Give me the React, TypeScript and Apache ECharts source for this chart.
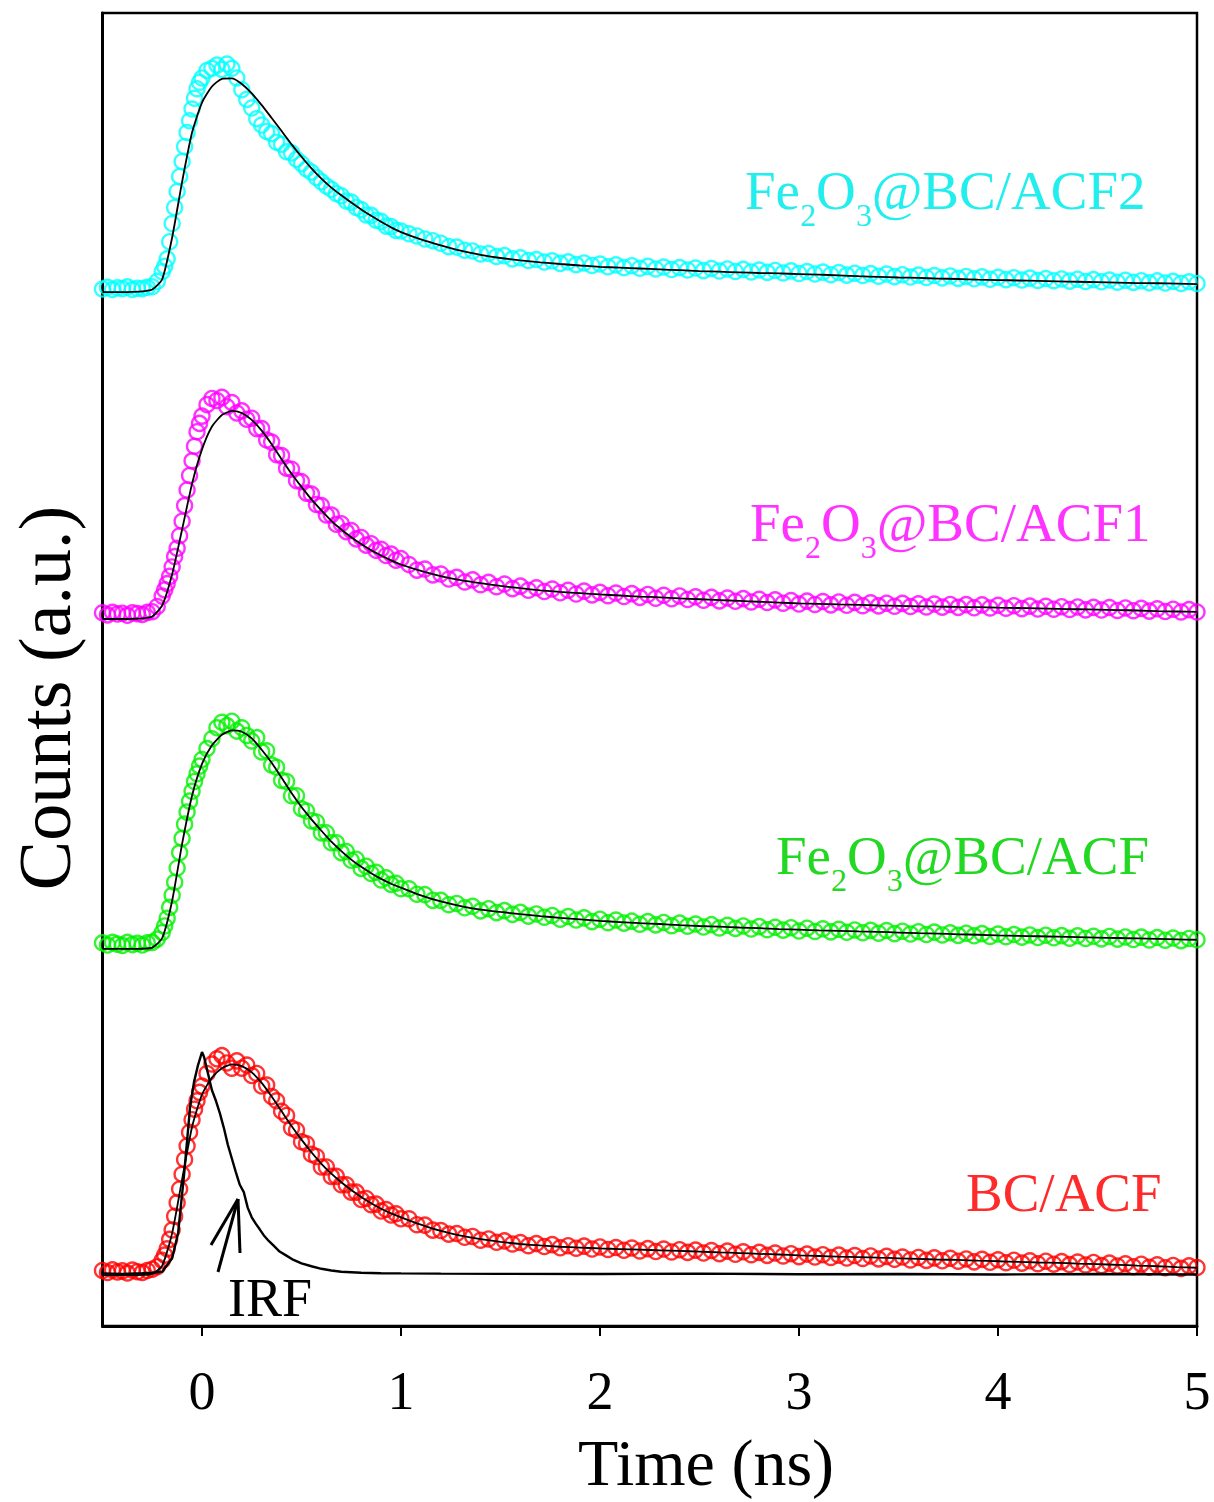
import React, { useEffect, useRef } from "react";
import * as echarts from "echarts";

// ---------- data ----------
const TIME_A = [-0.5, -0.475, -0.45, -0.425, -0.4, -0.375, -0.35, -0.325, -0.3, -0.275, -0.25, -0.225, -0.2, -0.175, -0.15, -0.125, -0.1, -0.075, -0.05, -0.025, 0, 0.025, 0.05, 0.075, 0.1, 0.125, 0.15, 0.175, 0.2, 0.225, 0.25, 0.275, 0.3, 0.325, 0.35, 0.375, 0.4, 0.425, 0.45, 0.475, 0.5, 0.525, 0.55, 0.575, 0.6, 0.625, 0.65, 0.675, 0.7, 0.725, 0.75, 0.775, 0.8, 0.825, 0.85, 0.875, 0.9, 0.925, 0.95, 0.975, 1.0];
const TIME_B = [1.04, 1.08, 1.12, 1.16, 1.2, 1.24, 1.28, 1.32, 1.36, 1.4,
  1.44, 1.48, 1.52, 1.56, 1.6, 1.64, 1.68, 1.72, 1.76, 1.8,
  1.84, 1.88, 1.92, 1.96, 2.0, 2.04, 2.08, 2.12, 2.16, 2.2,
  2.24, 2.28, 2.32, 2.36, 2.4, 2.44, 2.48, 2.52, 2.56, 2.6,
  2.64, 2.68, 2.72, 2.76, 2.8, 2.84, 2.88, 2.92, 2.96, 3.0,
  3.04, 3.08, 3.12, 3.16, 3.2, 3.24, 3.28, 3.32, 3.36, 3.4,
  3.44, 3.48, 3.52, 3.56, 3.6, 3.64, 3.68, 3.72, 3.76, 3.8,
  3.84, 3.88, 3.92, 3.96, 4.0, 4.04, 4.08, 4.12, 4.16, 4.2,
  4.24, 4.28, 4.32, 4.36, 4.4, 4.44, 4.48, 4.52, 4.56, 4.6,
  4.64, 4.68, 4.72, 4.76, 4.8, 4.84, 4.88, 4.92, 4.96, 5.0];
// extra samples on the rising edge
const TIME_R = [-0.1875, -0.1625, -0.1375, -0.1125, -0.0875, -0.0625, -0.0375, -0.0125];

// measured counts (normalised, peak ~1000)
const RED_A = [22, 12, 25, 15, 20, 10, 24, 16, 12, 22,
  28, 40, 70, 125, 215, 345, 480, 615, 740, 830,
  900, 960, 1005, 1030, 1045, 1010, 985, 1020, 985, 1000,
  950, 960, 900, 905, 850, 830, 780, 760, 700, 690,
  635, 625, 575, 565, 515, 515, 470, 470, 430, 430,
  395, 395, 360, 365, 335, 338, 305, 312, 286, 292,
  268];
const RED_B = [268, 240, 238, 214, 212, 195, 198, 180, 184, 166,
  172, 156, 163, 148, 155, 140, 150, 136, 145, 130,
  140, 128, 138, 124, 134, 122, 131, 118, 129, 115,
  126, 112, 124, 110, 121, 108, 119, 105, 117, 102,
  114, 99, 111, 97, 108, 94, 105, 91, 102, 88,
  100, 86, 97, 84, 95, 81, 93, 79, 91, 77,
  89, 75, 86, 72, 84, 70, 82, 68, 80, 66,
  77, 63, 75, 61, 73, 59, 71, 57, 68, 54,
  66, 52, 64, 50, 62, 48, 60, 45, 57, 43,
  54, 40, 52, 37, 49, 35, 46, 32, 44, 36];
const RED_R = [95, 170, 280, 410, 550, 680, 790, 870];

const GREEN_A = [28, 18, 30, 22, 16, 30, 20, 26, 18, 28,
  30, 45, 75, 140, 245, 370, 505, 625, 720, 800,
  865, 915, 960, 1010, 1035, 1020, 1040, 995, 1010, 975,
  950, 965, 900, 905, 840, 830, 770, 765, 700, 700,
  640, 630, 585, 580, 530, 530, 485, 485, 440, 445,
  405, 410, 368, 378, 345, 350, 315, 325, 295, 300,
  275];
const GREEN_B = [275, 250, 248, 222, 222, 202, 208, 188, 195, 174,
  184, 166, 175, 158, 167, 150, 160, 145, 153, 136,
  148, 132, 142, 125, 136, 120, 132, 118, 127, 113,
  125, 110, 121, 106, 118, 104, 114, 100, 111, 96,
  108, 94, 105, 91, 102, 88, 99, 86, 97, 82,
  95, 80, 92, 78, 90, 76, 87, 74, 85, 72,
  84, 70, 81, 68, 79, 66, 77, 64, 74, 62,
  72, 60, 70, 57, 68, 56, 66, 54, 64, 52,
  63, 51, 61, 49, 60, 48, 58, 46, 57, 45,
  55, 43, 54, 41, 52, 40, 50, 38, 48, 42];
const GREEN_R = [105, 190, 305, 440, 570, 675, 765, 835];

const MAGENTA_A = [30, 20, 32, 24, 28, 18, 30, 26, 22, 32,
  35, 60, 110, 170, 250, 340, 470, 620, 760, 900,
  975, 1030, 1060, 1050, 1065, 1020, 1040, 990, 1000, 960,
  965, 915, 915, 860, 850, 790, 785, 725, 720, 665,
  660, 605, 600, 550, 545, 500, 500, 455, 458, 420,
  425, 385, 392, 355, 362, 330, 335, 305, 312, 282,
  290];
const MAGENTA_B = [262, 235, 240, 212, 216, 192, 200, 178, 188, 165,
  176, 155, 168, 146, 158, 138, 150, 132, 144, 126,
  138, 120, 134, 116, 128, 112, 125, 108, 122, 104,
  118, 100, 114, 97, 111, 94, 107, 90, 104, 87,
  101, 85, 98, 82, 95, 79, 92, 76, 89, 72,
  86, 70, 84, 68, 82, 66, 80, 64, 78, 63,
  76, 61, 75, 60, 73, 58, 72, 57, 70, 56,
  69, 54, 68, 53, 66, 52, 64, 50, 62, 48,
  61, 47, 59, 46, 58, 44, 56, 43, 55, 41,
  53, 40, 51, 38, 49, 36, 47, 34, 45, 34];
const MAGENTA_R = [140, 205, 300, 400, 545, 690, 830, 940];

const CYAN_A = [14, 22, 12, 20, 16, 24, 12, 18, 16, 22,
  25, 50, 95, 155, 320, 470, 610, 745, 855, 950,
  1000, 1035, 1045, 1060, 1040, 1065, 1045, 1000, 945, 900,
  860, 810, 780, 750, 740, 700, 690, 655, 650, 620,
  600, 575, 560, 535, 515, 495, 480, 460, 450, 425,
  420, 395, 385, 360, 358, 335, 330, 308, 306, 288,
  285];
const CYAN_B = [272, 262, 248, 240, 228, 212, 210, 195, 192, 178,
  180, 166, 170, 155, 160, 147, 152, 140, 146, 134,
  141, 128, 136, 124, 131, 118, 127, 114, 123, 111,
  120, 108, 117, 105, 114, 103, 112, 100, 110, 98,
  108, 96, 106, 94, 103, 92, 101, 89, 99, 87,
  96, 84, 93, 81, 91, 79, 88, 77, 86, 74,
  84, 72, 81, 70, 79, 68, 77, 66, 75, 64,
  73, 62, 71, 60, 69, 58, 67, 56, 65, 54,
  63, 53, 61, 51, 60, 49, 58, 48, 56, 46,
  55, 45, 53, 43, 52, 42, 50, 40, 48, 40];
const CYAN_R = [120, 235, 395, 540, 680, 800, 905, 980];

// fitted curves
const FIT_TIME = [-0.5, -0.45, -0.4, -0.35, -0.3, -0.25, -0.2, -0.15, -0.1, -0.05,
  0, 0.05, 0.1, 0.15, 0.2, 0.25, 0.3, 0.35, 0.4, 0.45,
  0.5, 0.55, 0.6, 0.65, 0.7, 0.75, 0.8, 0.85, 0.9, 0.95, 1.0,
  1.1, 1.2, 1.3, 1.4, 1.5, 1.6, 1.7, 1.8, 1.9, 2.0,
  2.1, 2.2, 2.3, 2.4, 2.5, 2.6, 2.7, 2.8, 2.9, 3.0,
  3.1, 3.2, 3.3, 3.4, 3.5, 3.6, 3.7, 3.8, 3.9, 4.0,
  4.1, 4.2, 4.3, 4.4, 4.5, 4.6, 4.7, 4.8, 4.9, 5.0];
const RED_FIT = [0, 0, 0, 0, 1, 6, 45, 200, 455, 705,
  860, 940, 985, 1003, 995, 965, 915, 850, 780, 710,
  645, 585, 530, 483, 442, 405, 372, 342, 316, 294, 275,
  240, 210, 188, 171, 158, 148, 141, 135, 131, 127,
  124, 121, 118, 115, 112, 108, 105, 101, 98, 94,
  91, 88, 86, 83, 80, 77, 74, 72, 69, 66,
  63, 60, 58, 55, 52, 49, 45, 42, 38, 35];
const GREEN_FIT = [0, 0, 0, 0, 1, 6, 50, 220, 480, 700,
  845, 930, 978, 998, 992, 962, 910, 850, 782, 712,
  648, 592, 540, 490, 447, 408, 375, 346, 320, 298, 280,
  245, 217, 196, 180, 169, 159, 150, 142, 135, 128,
  123, 118, 114, 109, 105, 102, 98, 95, 91, 88,
  85, 83, 80, 78, 75, 72, 70, 67, 65, 62,
  60, 58, 56, 54, 52, 50, 48, 46, 44, 42];
const MAGENTA_FIT = [0, 0, 0, 1, 3, 12, 65, 215, 430, 650,
  815, 925, 980, 1000, 990, 957, 905, 840, 768, 698,
  635, 575, 522, 472, 430, 393, 360, 330, 305, 282, 262,
  231, 206, 187, 172, 159, 148, 138, 130, 124, 118,
  113, 108, 104, 99, 95, 91, 87, 83, 79, 75,
  73, 70, 68, 65, 63, 61, 60, 58, 57, 55,
  53, 51, 49, 47, 45, 43, 41, 38, 36, 34];
const CYAN_FIT = [0, 0, 0, 1, 3, 12, 60, 255, 515, 745,
  885, 960, 996, 998, 972, 928, 873, 813, 752, 690,
  632, 578, 530, 488, 452, 418, 386, 356, 328, 302, 280,
  246, 218, 193, 174, 159, 148, 139, 131, 124, 118,
  114, 110, 106, 102, 98, 95, 92, 89, 87, 84,
  81, 78, 74, 71, 68, 66, 63, 61, 58, 56,
  54, 52, 50, 48, 46, 44, 42, 41, 39, 37];

// instrument response function
const IRF_TIME = [-0.5, -0.4, -0.3, -0.25, -0.2, -0.15, -0.12, -0.09, -0.06, -0.04, -0.02, 0, 0.01, 0.03, 0.05, 0.07, 0.09, 0.11, 0.13, 0.15, 0.17, 0.19, 0.21, 0.23, 0.25, 0.27, 0.29, 0.31, 0.33, 0.36, 0.39, 0.42, 0.46, 0.5, 0.55, 0.6, 0.65, 0.7, 0.8, 0.9, 1.0, 1.2, 1.5, 2.0, 2.5, 3.0, 3.5, 4.0, 4.5, 5.0];
const IRF_COUNTS = [8, 6, 9, 11, 16, 80, 200, 480, 800, 920, 1000, 1062, 1040, 960, 880, 830, 770, 700, 620, 555, 490, 430, 395, 320, 275, 245, 218, 190, 168, 140, 112, 95, 72, 56, 42, 30, 22, 16, 11, 9, 8, 7, 6, 5, 7, 4, 5, 3, 5, 3];

const SAMPLE_NAMES = ["BC/ACF", "Fe2O3@BC/ACF", "Fe2O3@BC/ACF1", "Fe2O3@BC/ACF2"];
const MARKER_COLORS = ["#FF0000", "#00F000", "#FF00FF", "#00FFFF"];
const TEXT_COLORS = ["#FF2A2A", "#22D822", "#FF33FF", "#22EEEE"];
const OFFSETS = [239, 1770, 3319, 4854];
const AMPLITUDES = [0.986, 1.028, 0.977, 1.005];
const Y_MAX = 6164;
const X_TICKS = [0, 1, 2, 3, 4, 5];

const SERIES_DATA = [
  RED_A.concat(RED_B, RED_R),
  GREEN_A.concat(GREEN_B, GREEN_R),
  MAGENTA_A.concat(MAGENTA_B, MAGENTA_R),
  CYAN_A.concat(CYAN_B, CYAN_R),
];
const SERIES_FIT = [RED_FIT, GREEN_FIT, MAGENTA_FIT, CYAN_FIT];
const TIME = TIME_A.concat(TIME_B, TIME_R);

const FONT = "'Liberation Serif', 'Times New Roman', serif";

function measure(text: string, size: number): number {
  const c = document.createElement("canvas").getContext("2d");
  if (!c) return text.length * size * 0.5;
  c.font = `${size}px 'Liberation Serif'`;
  return c.measureText(text).width;
}

// pieces: [text, isSubscript]
function chemLabel(pieces: [string, boolean][], x: number, y: number, color: string, size = 55, subSize = 32, subDy = 25) {
  const children: any[] = [];
  let cx = 0;
  pieces.forEach(([t, sub]) => {
    const fs = sub ? subSize : size;
    children.push({
      type: "text",
      x: cx,
      y: sub ? subDy : 0,
      style: { text: t, fill: color, fontSize: fs, fontFamily: FONT, verticalAlign: "middle", align: "left" },
    });
    cx += measure(t, fs);
  });
  return { type: "group", x, y, children, z: 100 };
}

export default function App() {
  const ref = useRef<HTMLDivElement>(null);
  useEffect(() => {
    if (!ref.current) return;
    const chart = echarts.init(ref.current, undefined, { renderer: "svg" });
    const series: any[] = [];
    SAMPLE_NAMES.forEach((name, k) => {
      series.push({
        name,
        type: "scatter",
        symbol: "circle",
        symbolSize: 15,
        itemStyle: { color: "rgba(0,0,0,0)", borderColor: MARKER_COLORS[k], borderWidth: 2.4 },
        data: TIME.map((t, i) => [t, OFFSETS[k] + AMPLITUDES[k] * SERIES_DATA[k][i]]),
        z: 2,
        silent: true,
      });
    });
    SAMPLE_NAMES.forEach((name, k) => {
      series.push({
        name: name + " fit",
        type: "line",
        smooth: 0.2,
        showSymbol: false,
        lineStyle: { color: "#000", width: 1.8 },
        data: FIT_TIME.map((t, i) => [t, OFFSETS[k] + AMPLITUDES[k] * SERIES_FIT[k][i]]),
        z: 3,
        silent: true,
      });
    });
    series.push({
      name: "IRF",
      type: "line",
      showSymbol: false,
      lineStyle: { color: "#000", width: 2.4 },
      data: IRF_TIME.map((t, i) => [t, OFFSETS[0] + AMPLITUDES[0] * IRF_COUNTS[i]]),
      z: 3,
      silent: true,
    });

    const graphic: any[] = [
      chemLabel([["Fe", false], ["2", true], ["O", false], ["3", true], ["@BC/ACF2", false]], 745, 190, TEXT_COLORS[3]),
      chemLabel([["Fe", false], ["2", true], ["O", false], ["3", true], ["@BC/ACF1", false]], 750, 522, TEXT_COLORS[2]),
      chemLabel([["Fe", false], ["2", true], ["O", false], ["3", true], ["@BC/ACF", false]], 776, 855, TEXT_COLORS[1]),
      chemLabel([["BC/ACF", false]], 966, 1192, TEXT_COLORS[0]),
      chemLabel([["IRF", false]], 228, 1298, "#000", 54),
      {
        type: "group",
        z: 100,
        children: [
          { type: "line", shape: { x1: 218, y1: 1272, x2: 238, y2: 1199 }, style: { stroke: "#000", lineWidth: 3 } },
          { type: "line", shape: { x1: 211, y1: 1245, x2: 238, y2: 1199 }, style: { stroke: "#000", lineWidth: 3 } },
          { type: "line", shape: { x1: 240, y1: 1253, x2: 238, y2: 1199 }, style: { stroke: "#000", lineWidth: 3 } },
        ],
      },
      {
        type: "text",
        x: 706,
        y: 1462,
        z: 100,
        style: { text: "Time (ns)", fill: "#000", fontSize: 66, fontFamily: FONT, align: "center", verticalAlign: "middle" },
      },
      {
        type: "text",
        x: 45,
        y: 698,
        rotation: Math.PI / 2,
        z: 100,
        style: { text: "Counts (a.u.)", fill: "#000", fontSize: 74, fontFamily: FONT, align: "center", verticalAlign: "middle" },
      },
    ];

    chart.setOption({
      animation: false,
      backgroundColor: "#fff",
      grid: { left: 102.5, right: 17, top: 13, bottom: 176, show: true, borderColor: "#000", borderWidth: 2.5, containLabel: false },
      xAxis: {
        type: "value",
        min: -0.5,
        max: 5,
        axisLine: { show: true, onZero: false, lineStyle: { color: "#000", width: 3 } },
        axisTick: { show: true, customValues: X_TICKS, length: 10, lineStyle: { color: "#000", width: 2 } },
        axisLabel: { show: true, customValues: X_TICKS, color: "#000", fontSize: 54, fontFamily: FONT, margin: 38 },
        splitLine: { show: false },
      },
      yAxis: {
        type: "value",
        min: 0,
        max: Y_MAX,
        axisLine: { show: true, onZero: false, lineStyle: { color: "#000", width: 3 } },
        axisTick: { show: false },
        axisLabel: { show: false },
        splitLine: { show: false },
      },
      series,
      graphic,
    });
    return () => chart.dispose();
  }, []);
  return <div ref={ref} style={{ position: "absolute", left: 0, top: 0, width: 1214, height: 1502 }} />;
}
